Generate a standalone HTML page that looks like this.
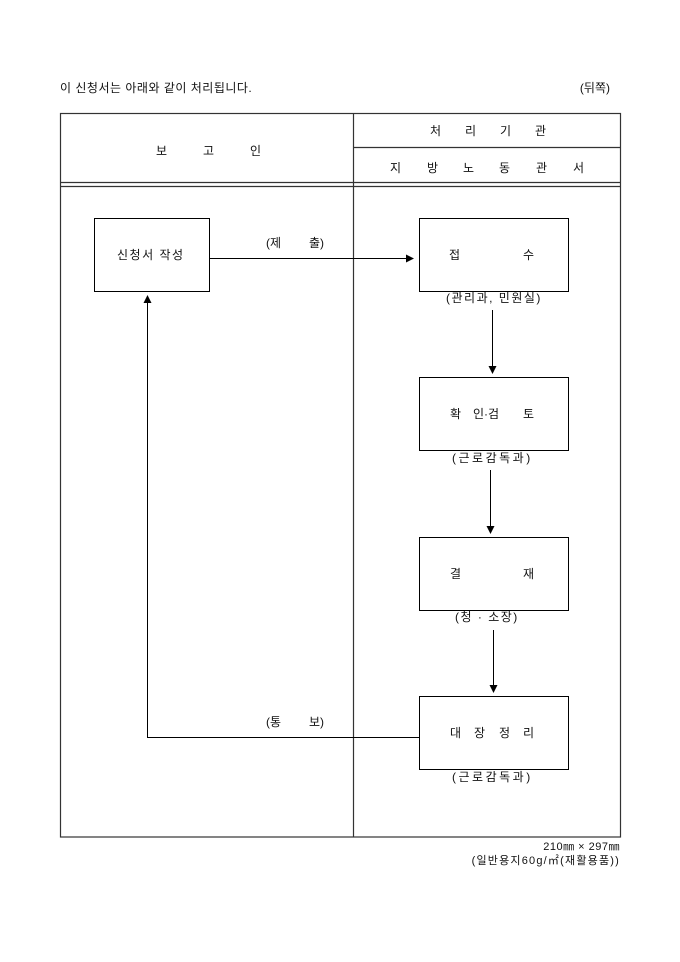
<!DOCTYPE html>
<html><head><meta charset="utf-8"><style>
html,body{margin:0;padding:0;background:#fff;}
svg{display:block;}
text{font-family:"Liberation Sans","Noto Sans CJK KR","NanumGothic",sans-serif;font-size:12px;fill:#111;}
.s{letter-spacing:1.5px;}
.t{letter-spacing:2.5px;}
</style></head><body>
<svg width="680" height="962" viewBox="0 0 680 962" xmlns="http://www.w3.org/2000/svg">
<defs><marker id="a" markerWidth="8" markerHeight="8" refX="7" refY="4" orient="auto" markerUnits="userSpaceOnUse"><path d="M0,0 L8,4 L0,8 z" fill="#000"/></marker></defs>
<text x="60" y="92" style="letter-spacing:0.5px">이 신청서는 아래와 같이 처리됩니다.</text>
<text x="610" y="92" text-anchor="end">(뒤쪽)</text>
<g stroke="#333" stroke-width="1.2" fill="none">
<rect x="60.5" y="113.5" width="560" height="723.5"/>
<line x1="353.5" y1="113" x2="353.5" y2="837"/>
<line x1="353" y1="147.5" x2="621" y2="147.5"/>
<line x1="60" y1="182.5" x2="621" y2="182.5"/>
<line x1="60" y1="186.5" x2="621" y2="186.5"/>
</g>
<text x="156" y="155">보</text><text x="203" y="155">고</text><text x="250" y="155">인</text>
<text y="135"><tspan x="430">처</tspan><tspan x="465">리</tspan><tspan x="500">기</tspan><tspan x="535">관</tspan></text>
<text y="172"><tspan x="390">지</tspan><tspan x="427">방</tspan><tspan x="463">노</tspan><tspan x="499">동</tspan><tspan x="536">관</tspan><tspan x="573">서</tspan></text>
<g stroke="#000" stroke-width="1" fill="none">
<rect x="94.5" y="218.5" width="115" height="73"/>
<rect x="419.5" y="218.5" width="149" height="73"/>
<rect x="419.5" y="377.5" width="149" height="73"/>
<rect x="419.5" y="537.5" width="149" height="73"/>
<rect x="419.5" y="696.5" width="149" height="73"/>
<line x1="209" y1="258.5" x2="413" y2="258.5" marker-end="url(#a)"/>
<line x1="492.5" y1="310" x2="492.5" y2="373" marker-end="url(#a)"/>
<line x1="490.5" y1="470" x2="490.5" y2="533" marker-end="url(#a)"/>
<line x1="493.5" y1="630" x2="493.5" y2="692" marker-end="url(#a)"/>
<polyline points="419,737.5 147.5,737.5 147.5,296" marker-end="url(#a)"/>
</g>
<text x="117" y="259" class="s">신청서 작성</text>
<text x="266" y="247">(제</text><text x="309" y="247">출)</text>
<text x="449" y="259">접</text><text x="523" y="259">수</text>
<text x="446" y="302" class="s">(관리과, 민원실)</text>
<text y="418"><tspan x="450">확</tspan><tspan x="473">인·검</tspan><tspan x="523">토</tspan></text>
<text x="452" y="462" class="t">(근로감독과)</text>
<text x="450" y="578">결</text><text x="523" y="578">재</text>
<text x="455" y="621" class="s">(청 · 소장)</text>
<text y="737"><tspan x="450">대</tspan><tspan x="474">장</tspan><tspan x="499">정</tspan><tspan x="523">리</tspan></text>
<text x="452" y="781" class="t">(근로감독과)</text>
<text x="266" y="726">(통</text><text x="309" y="726">보)</text>
<text x="620" y="850" text-anchor="end" style="font-size:11px;letter-spacing:0.5px">210㎜ × 297㎜</text>
<text x="620" y="864" text-anchor="end" style="font-size:11px;letter-spacing:1.2px">(일반용지60g/㎡(재활용품))</text>
</svg>
</body></html>
